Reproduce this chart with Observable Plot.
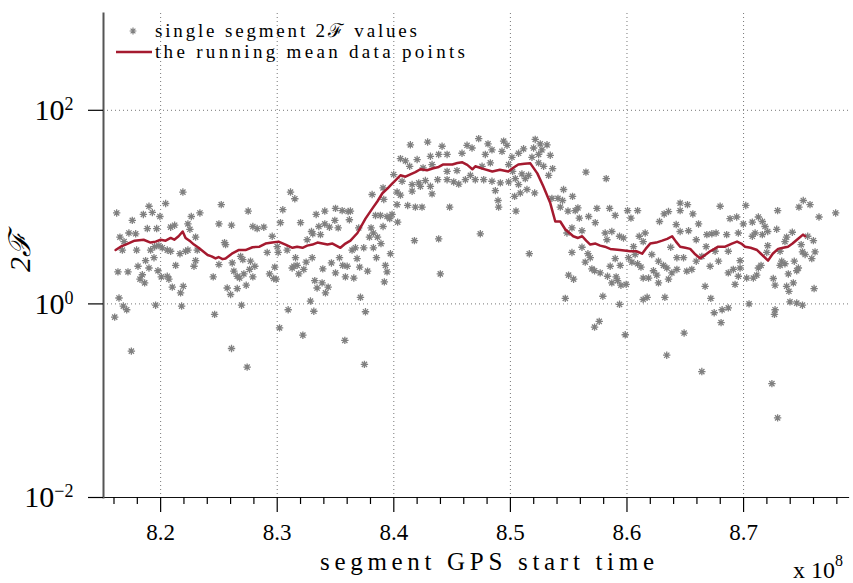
<!DOCTYPE html>
<html><head><meta charset="utf-8">
<script src="https://cdn.jsdelivr.net/npm/d3@7"></script>
<script src="https://cdn.jsdelivr.net/npm/@observablehq/plot@0.6"></script>
<style>body{margin:0;background:#fff} svg{display:block}</style>
</head><body><div id="chart"></div>
<script>
// single segment 2F values: [GPS start time (x1e8), 2F]
const segmentPoints = [
[8.1623,8.7],[8.1757,7.3],[8.1852,8.4],[8.19,10.2],[8.1929,8.8],[8.1994,8.0],[8.2043,10.9],[8.2191,14.3],[8.2086,6.2],[8.212,6.5],
[8.2263,8.0],[8.2337,8.7],[8.2234,6.7],[8.2251,5.9],[8.1651,4.9],[8.1728,5.4],[8.1786,5.3],[8.1686,4.4],[8.1672,3.6],[8.1794,3.6],
[8.1886,6.0],[8.1966,6.0],[8.1914,3.6],[8.1949,3.9],[8.1985,4.0],[8.2014,3.8],[8.2057,3.6],[8.2086,3.5],[8.2166,3.3],[8.2214,3.5],
[8.2234,3.6],[8.23,4.9],[8.2314,3.6],[8.1943,3.0],[8.1871,2.8],[8.1806,2.45],[8.19,2.35],[8.2129,2.5],[8.2286,2.45],[8.23,2.8],
[8.1634,2.14],[8.172,2.14],[8.1977,2.2],[8.2006,1.9],[8.1843,2.0],[8.1823,1.8],[8.1863,1.65],[8.2057,1.93],[8.2071,1.8],[8.21,1.49],
[8.2194,1.52],[8.2171,1.3],[8.1643,1.15],[8.168,0.95],[8.1709,0.87],[8.1957,0.97],[8.218,0.95],[8.1606,0.73],[8.1749,0.325],[8.2463,0.78],
[8.2451,1.9],[8.25,2.55],[8.25,6.7],[8.252,10.6],[8.2548,4.3],
[8.2608,6.5],[8.2751,9.1],[8.2791,6.3],[8.2828,6.0],[8.2885,6.2],[8.3048,9.4],[8.3114,14.3],[8.3151,12.2],[8.3028,6.9],[8.32,6.9],
[8.3334,8.4],[8.3408,9.1],[8.35,9.7],[8.3557,9.2],[8.3608,9.0],[8.3619,7.4],[8.3357,6.3],[8.3408,6.7],[8.3448,6.2],[8.3494,7.3],
[8.3523,6.1],[8.3294,5.6],[8.3257,4.6],[8.3305,5.3],[8.3371,5.2],[8.2557,4.1],[8.2614,2.65],[8.2686,3.1],[8.2705,2.87],[8.2771,2.76],
[8.2808,2.45],[8.2763,2.27],[8.2628,2.18],[8.2657,1.93],[8.2677,1.85],[8.2714,2.04],[8.2791,1.9],[8.2734,1.56],[8.2657,1.44],[8.2571,1.46],
[8.26,1.25],[8.2694,0.97],[8.2914,3.4],[8.2957,5.0],[8.3,3.9],[8.3008,3.4],[8.3085,3.6],[8.2979,2.4],[8.2934,2.04],[8.297,1.83],
[8.2991,1.8],[8.3157,3.0],[8.3143,2.45],[8.3171,2.5],[8.3128,2.35],[8.3185,2.04],[8.3228,2.27],[8.3248,2.7],[8.33,3.0],[8.3391,2.3],
[8.3465,2.65],[8.35,2.09],[8.3534,3.0],[8.3562,2.5],[8.36,2.45],[8.3585,1.9],[8.3322,1.74],[8.3342,1.46],[8.3385,1.65],[8.3437,1.49],
[8.3414,1.3],[8.3285,1.07],[8.3314,0.84],[8.3094,0.87],[8.302,0.565],[8.322,0.475],[8.358,0.42],[8.2608,0.346],[8.2742,0.222],
[8.4142,44],[8.429,47],[8.4414,42.5],[8.4057,31.7],[8.41,30],[8.42,31],[8.4314,33.5],[8.4385,35],[8.4457,35],[8.4585,36],
[8.4628,43.5],[8.4671,40.8],[8.3999,21.7],[8.4136,26.4],[8.4251,25.4],[8.4328,27.5],[8.4376,19.2],[8.4457,23.4],[8.4542,23.8],[8.4614,19.2],
[8.4657,21.3],[8.4071,18.5],[8.4157,17.1],[8.4214,17.8],[8.4271,18.8],[8.4314,16.4],[8.4457,19.2],[8.4514,18.2],[8.4557,17.3],[8.4157,14.6],
[8.4228,16.4],[8.4328,13.7],[8.4028,14.3],[8.4057,13.3],[8.3908,15.8],[8.3814,13.5],[8.3914,12],[8.4028,10.6],[8.4119,10.4],[8.4185,10],
[8.4242,10],[8.4479,10],[8.3843,8.2],[8.3885,8.2],[8.3942,8.0],[8.3965,7.6],[8.3985,8.4],[8.4033,7.0],[8.3908,6.3],[8.3805,6.1],
[8.3699,6.1],[8.3825,5.4],[8.386,4.9],[8.3791,4.9],[8.389,4.2],[8.3742,3.8],[8.3671,3.8],[8.3642,3.6],[8.3825,3.8],[8.3628,9.1],
[8.3971,3.3],[8.3851,3.0],[8.3685,2.94],[8.3707,2.4],[8.3775,2.18],[8.3928,2.5],[8.3942,2.14],[8.3657,1.85],[8.3919,1.69],[8.4177,4.5],
[8.4385,4.7],[8.4399,2.04],[8.3714,1.17],[8.3757,0.83],[8.3748,0.237],
[8.4728,51],[8.4808,45],[8.4842,39],[8.4942,48],[8.4971,43.5],[8.4785,35],[8.4928,37.7],[8.507,36],[8.5113,40],[8.5013,32.7],
[8.5213,50],[8.5256,45],[8.5314,44],[8.5199,40.8],[8.527,39],[8.5342,34.3],[8.5242,35],[8.5185,32.7],[8.5242,28.6],[8.5285,26.4],
[8.5362,25],[8.5328,21.3],[8.4828,28.6],[8.4757,26.4],[8.4985,27.5],[8.5019,23.4],[8.5099,22],[8.5156,21.3],[8.4699,19.2],[8.4771,19.2],
[8.4842,18.5],[8.4914,17.8],[8.4985,18.2],[8.5042,19.7],[8.5128,19.7],[8.507,17.1],[8.4871,14.8],[8.5142,15.2],[8.5085,14],[8.5036,12.9],
[8.5208,14],[8.4894,11.7],[8.4899,10],[8.5048,9.1],[8.5648,23],[8.5456,15.2],[8.5533,12.9],[8.5356,12.3],[8.5408,12.3],[8.5447,11.7],
[8.5428,10],[8.5494,9.1],[8.5556,9.2],[8.5579,9.8],[8.5591,7.7],[8.5671,8.0],[8.5742,9.7],[8.5728,6.9],[8.5528,6.1],[8.5485,5.4],
[8.5614,5.7],[8.4742,5.3],[8.5162,3.3],[8.5528,3.4],[8.5614,3.85],[8.5665,3.3],[8.5685,3.0],[8.5642,2.7],[8.5699,2.3],[8.5722,2.2],
[8.5499,1.98],[8.5542,1.8],[8.5471,1.14],[8.5722,0.575],[8.5762,0.66],
[8.5822,19.7],[8.5851,9.7],[8.5899,8.2],[8.6005,9.2],[8.6034,7.7],[8.6091,9.2],[8.5813,5.4],[8.587,5.6],[8.5936,5.0],[8.597,4.8],
[8.5828,4.6],[8.6105,5.0],[8.6139,4.4],[8.6156,5.4],[8.6056,3.9],[8.6279,7.1],[8.6319,8.5],[8.6356,9.0],[8.6456,11],[8.6519,10.6],
[8.6456,9.2],[8.6565,8.5],[8.6422,6.6],[8.6456,5.6],[8.6528,5.7],[8.6614,6.7],[8.6594,4.6],[8.6685,5.2],[8.6728,5.3],[8.6764,5.4],
[8.6799,10.2],[8.607,3.24],[8.6013,3.0],[8.5899,2.94],[8.5942,2.5],[8.5856,2.45],[8.6042,2.7],[8.6091,2.6],[8.612,2.4],[8.577,2.09],
[8.5833,1.93],[8.5907,1.9],[8.587,1.65],[8.5948,1.56],[8.5993,1.59],[8.5919,1.74],[8.6213,3.24],[8.627,2.76],[8.6313,2.5],[8.6342,2.35],
[8.6385,2.09],[8.6428,3.0],[8.6485,3.0],[8.6513,2.18],[8.6556,2.27],[8.6594,2.76],[8.6642,3.1],[8.6713,2.45],[8.6785,2.76],[8.6227,2.2],
[8.6256,1.98],[8.6185,1.85],[8.627,1.65],[8.6356,1.8],[8.6428,2.27],[8.6139,1.85],[8.6325,1.17],[8.6139,1.11],[8.6173,1.17],[8.5793,1.2],
[8.5936,0.99],[8.667,1.52],[8.6719,1.14],[8.6748,0.81],[8.6807,0.64],[8.6816,0.87],[8.5985,0.48],[8.649,0.5],[8.6341,0.295],[8.6642,0.2],
[8.6375,3.85],[8.6679,3.9],[8.6756,3.5],
[8.6884,7.6],[8.6941,7.9],[8.6998,6.7],[8.7019,10.4],[8.7075,7.0],[8.7127,7.9],[8.7161,7.1],[8.7184,6.3],[8.7207,5.6],[8.7161,5.2],
[8.7099,5.4],[8.7075,5.0],[8.6955,5.4],[8.6855,5.2],[8.7284,5.9],[8.7292,9.2],[8.7475,10],[8.7512,11.7],[8.757,10.6],[8.7647,7.9],
[8.779,8.7],[8.7418,5.5],[8.7369,4.9],[8.7355,4.4],[8.755,5.0],[8.7599,4.5],[8.7613,3.45],[8.7494,4.1],[8.7505,3.45],[8.7528,3.24],
[8.7585,2.94],[8.6869,3.5],[8.697,2.8],[8.6912,2.27],[8.6869,2.09],[8.697,2.35],[8.6955,1.93],[8.7027,1.85],[8.7084,1.85],[8.7113,1.98],
[8.7127,2.35],[8.715,2.5],[8.7207,4.0],[8.7199,3.4],[8.7313,3.5],[8.7327,2.76],[8.7313,2.5],[8.7355,2.6],[8.7384,2.04],[8.7435,2.76],
[8.7456,2.2],[8.747,2.35],[8.7427,1.65],[8.7369,1.52],[8.7389,1.35],[8.7255,1.83],[8.727,1.56],[8.6927,1.59],[8.7605,1.44],[8.7398,1.05],
[8.7456,1.02],[8.7505,0.97],[8.7047,1.0],[8.6869,0.91],[8.727,0.87],[8.7265,0.78],[8.7243,0.15],[8.7292,0.0665]
];
// running mean: [GPS start time (x1e8), mean 2F]
const meanPoints = [
[8.1614,3.6],[8.1657,3.9],[8.17,4.1],[8.1777,4.5],[8.1854,4.6],[8.1914,4.3],[8.1957,4.4],[8.2,4.6],[8.2043,4.5],[8.2086,4.8],
[8.2117,4.6],[8.2154,5.0],[8.2189,5.6],[8.2214,4.8],[8.2257,4.4],[8.2286,4.1],[8.2326,3.8],[8.2363,3.5],[8.2403,3.2],[8.2437,3.1],
[8.2471,2.95],[8.2497,3.05],[8.2531,2.9],[8.2557,2.95],[8.2611,3.3],[8.2668,3.6],[8.2728,3.6],[8.2788,3.85],[8.2848,3.9],[8.29,4.2],
[8.2957,4.3],[8.3011,4.4],[8.3071,4.1],[8.3131,3.8],[8.3171,3.9],[8.3217,3.8],[8.3257,4.0],[8.3302,4.1],[8.3345,4.3],[8.3388,4.2],
[8.3431,4.1],[8.3474,4.2],[8.3542,3.8],[8.3585,4.2],[8.3628,4.5],[8.3688,5.4],[8.3757,7.6],[8.3817,9.7],[8.386,11.5],[8.3902,13.9],
[8.3945,15.5],[8.3988,17.6],[8.4057,21.3],[8.41,20.6],[8.4142,21.8],[8.4185,23.0],[8.4228,24.6],[8.4285,24.0],[8.4339,25.2],[8.4385,26.0],
[8.4425,27.6],[8.4502,27.6],[8.4545,28.5],[8.4588,29],[8.463,27.3],[8.4674,24.6],[8.4699,26.4],[8.476,25.0],[8.4845,23.3],[8.491,24.3],
[8.4982,23.3],[8.5025,25.5],[8.5068,27.6],[8.512,28.0],[8.5171,28.3],[8.5231,22.3],[8.5282,16.4],[8.5342,11],[8.5385,7.1],[8.5428,7.1],
[8.547,5.9],[8.5539,5.0],[8.558,4.8],[8.5616,5.0],[8.565,4.5],[8.5685,4.1],[8.573,4.2],[8.577,4.0],[8.581,3.9],[8.5856,3.7],
[8.594,3.6],[8.6028,3.5],[8.608,3.5],[8.613,3.3],[8.616,3.7],[8.6199,4.2],[8.625,4.3],[8.6302,4.5],[8.6345,4.7],[8.6387,5.0],
[8.642,4.4],[8.6456,3.9],[8.65,3.8],[8.6542,3.7],[8.658,3.3],[8.6627,2.95],[8.667,3.2],[8.6713,3.5],[8.675,3.7],[8.6782,3.9],
[8.6842,3.9],[8.69,4.2],[8.6944,4.4],[8.698,4.2],[8.7013,3.9],[8.706,3.8],[8.7116,3.6],[8.716,3.2],[8.721,2.8],[8.725,3.3],
[8.7296,3.7],[8.734,3.8],[8.7381,3.9],[8.742,4.2],[8.7458,4.6],[8.751,5.2],[8.7527,5.0]
];
const xDomain = [8.151, 8.79];
const yDomain = [0.01, 1000];
const majorTicks = [8.2, 8.3, 8.4, 8.5, 8.6, 8.7];
const minorTicks = [8.16,8.18,8.22,8.24,8.26,8.28,8.32,8.34,8.36,8.38,8.42,8.44,8.46,8.48,8.52,8.54,8.56,8.58,8.62,8.64,8.66,8.68,8.72,8.74,8.76,8.78];
const yTicks = [0.01, 1, 100];
const yGrid = [1, 100];
const xLabel = "segment GPS start time";
const yLabel = "2\u2131";
const legendLabels = ["single segment 2\u2131 values", "the running mean data points"];
const xMultiplier = ["x 10", "8"];

const GRAY = "#808080", RED = "#a51a2f";
const SERIF = "'Liberation Serif', 'DejaVu Serif', serif";

// 8-armed asterisk marker
const star8 = {
  draw(ctx, size) {
    const r = Math.sqrt(size / Math.PI), d = r * Math.SQRT1_2;
    ctx.moveTo(-r, 0); ctx.lineTo(r, 0);
    ctx.moveTo(0, -r); ctx.lineTo(0, r);
    ctx.moveTo(-d, -d); ctx.lineTo(d, d);
    ctx.moveTo(-d, d); ctx.lineTo(d, -d);
  }
};
const dotted = {stroke: "#777", strokeOpacity: 1, strokeWidth: 1, strokeDasharray: "1,3"};

const chart = Plot.plot({
  width: 853, height: 583,
  marginLeft: 103, marginRight: 5, marginTop: 13, marginBottom: 86,
  style: {fontFamily: SERIF, background: "#fff", color: "#000"},
  x: {domain: xDomain},
  y: {type: "log", domain: yDomain},
  marks: [
    Plot.gridX(majorTicks, dotted),
    Plot.gridY(yGrid, dotted),
    Plot.dot(segmentPoints, {x: d => d[0], y: d => d[1], symbol: star8, r: 3.7, fill: "none", stroke: GRAY, strokeWidth: 1.3}),
    Plot.line(meanPoints, {x: d => d[0], y: d => d[1], stroke: RED, strokeWidth: 2.5, strokeLinejoin: "round"}),
    Plot.frame({anchor: "bottom", stroke: "#111", strokeWidth: 1.2}),
    Plot.frame({anchor: "left", stroke: "#555", strokeWidth: 2}),
    Plot.axisX(minorTicks, {tickSize: 7, tickFormat: () => "", label: null, strokeWidth: 1.2}),
    Plot.axisX(majorTicks, {tickSize: 15, tickPadding: 11, fontSize: 23, tickFormat: d => d.toFixed(1), label: null, strokeWidth: 1.2}),
    Plot.axisY(yTicks, {tickSize: 15, tickPadding: 15, fontSize: 30, tickFormat: d => String(Math.round(Math.log10(d))), label: null, strokeWidth: 1.2})
  ]
});
document.getElementById("chart").appendChild(chart);

const svg = d3.select(chart);
// superscript exponents on y tick labels
svg.selectAll('g[aria-label="y-axis tick label"] text').each(function() {
  const e = this.textContent;
  const t = d3.select(this);
  t.text("10");
  t.append("tspan").attr("dy", "-0.55em").attr("font-size", 18).text(e.replace("-", "\u2212"));
});

// axis titles
svg.append("text").attr("x", 487).attr("y", 570).attr("text-anchor", "middle")
  .attr("font-family", SERIF).attr("font-size", 25).attr("textLength", 334).attr("lengthAdjust", "spacing").text(xLabel);
const xm = svg.append("text").attr("x", 793).attr("y", 578).attr("text-anchor", "start").attr("font-family", SERIF).attr("font-size", 24);
xm.append("tspan").text(xMultiplier[0]);
xm.append("tspan").attr("dy", -12).attr("font-size", 16).text(xMultiplier[1]);
svg.append("text").attr("transform", "translate(30,252) rotate(-90)").attr("text-anchor", "middle")
  .attr("font-family", SERIF).attr("font-style", "italic").attr("font-size", 30).text(yLabel);

// legend
const lg = svg.append("g").attr("text-anchor", "start");
lg.append("path").attr("transform", "translate(133,31)").attr("d", d3.symbol(star8, 3.4 * 3.4 * Math.PI)())
  .attr("stroke", GRAY).attr("stroke-width", 1.2).attr("fill", "none");
lg.append("line").attr("x1", 116).attr("x2", 152).attr("y1", 52).attr("y2", 52).attr("stroke", RED).attr("stroke-width", 2.4);
lg.append("text").attr("x", 155).attr("y", 37).attr("font-family", SERIF).attr("font-size", 19)
  .attr("textLength", 262).attr("lengthAdjust", "spacing").text(legendLabels[0]);
lg.append("text").attr("x", 155).attr("y", 58).attr("font-family", SERIF).attr("font-size", 19)
  .attr("textLength", 310).attr("lengthAdjust", "spacing").text(legendLabels[1]);
</script>
</body></html>
